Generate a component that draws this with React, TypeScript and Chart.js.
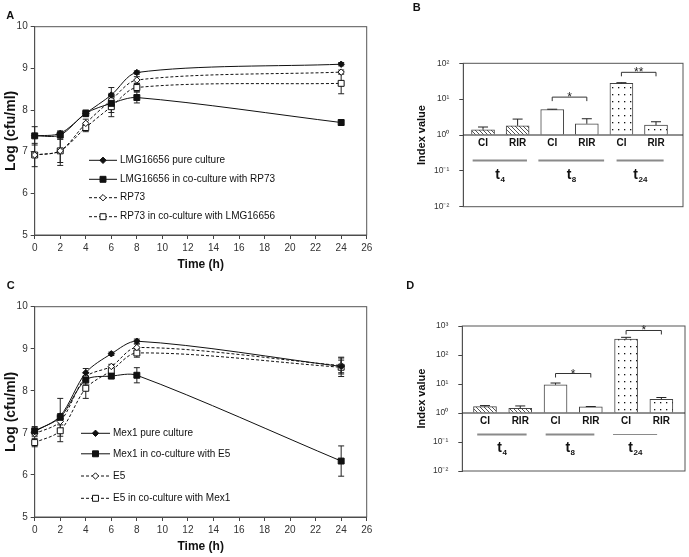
import { useEffect, useRef } from 'react';
import { Chart, registerables } from 'chart.js';

Chart.register(...registerables);
Chart.defaults.font.family = "'Liberation Sans', Arial, Helvetica, sans-serif";
Chart.defaults.color = '#222';

const FONT = "'Liberation Sans', Arial, Helvetica, sans-serif";

// sampling times (h)
const hours = [0, 2, 4, 6, 8, 24];

// panel A: log(cfu/ml)
const lmgPure = [7.38, 7.44, 7.92, 8.36, 8.9, 9.1];
const lmgPureErr = [0.04, 0.04, 0.05, 0.04, 0.04, 0.04];
const lmgCo = [7.38, 7.4, 7.92, 8.16, 8.3, 7.7];
const lmgCoErr = [0.22, 0.1, 0.08, 0.12, 0.13, 0.06];
const rp73 = [6.92, 7.02, 7.68, 8.24, 8.72, 8.91];
const rp73Err = [0.05, 0.28, 0.1, 0.3, 0.08, 0.05];
const rp73Co = [6.92, 7.02, 7.58, 8.08, 8.54, 8.64];
const rp73CoErr = [0.28, 0.35, 0.1, 0.24, 0.1, 0.25];

// panel C: log(cfu/ml)
const mex1Pure = [7.03, 7.4, 8.43, 8.88, 9.18, 8.58];
const mex1PureErr = [0.05, 0.06, 0.1, 0.04, 0.05, 0.15];
const mex1Co = [7.05, 7.37, 8.26, 8.35, 8.37, 6.33];
const mex1CoErr = [0.1, 0.45, 0.1, 0.05, 0.18, 0.36];
const e5 = [6.98, 7.27, 8.33, 8.58, 9.03, 8.6];
const e5Err = [0.06, 0.08, 0.1, 0.05, 0.08, 0.2];
const e5Co = [6.77, 7.05, 8.06, 8.48, 8.9, 8.56];
const e5CoErr = [0.1, 0.26, 0.24, 0.1, 0.1, 0.22];

// panels B and D: index values
const barCats = ['CI', 'RIR', 'CI', 'RIR', 'CI', 'RIR'];
const timeGroups = ['4', '8', '24'];
const indexB = [1.4, 1.81, 5.14, 2.06, 27.8, 1.89];
const indexBErr = [0.27, 0.97, 0.1, 0.78, 1.0, 0.45];
const indexD = [1.66, 1.45, 9.4, 1.62, 356, 2.99];
const indexDErr = [0.14, 0.3, 1.4, 0.05, 51, 0.43];
const logTicksB = [0.01, 0.1, 1, 10, 100];
const logLabelsB = ['10⁻²', '10⁻¹', '10⁰', '10¹', '10²'];
const logTicksD = [0.01, 0.1, 1, 10, 100, 1000];
const logLabelsD = ['10⁻²', '10⁻¹', '10⁰', '10¹', '10²', '10³'];
const sigB = [
  { a: 2, b: 3, y: 11.4, mark: '*' },
  { a: 4, b: 5, y: 56, mark: '**' },
];
const sigD = [
  { a: 2, b: 3, y: 23, mark: '*' },
  { a: 4, b: 5, y: 700, mark: '*' },
];

function drawMarker(ctx: any, style: string, x: number, y: number, r: number, fill: string, stroke: string) {
  ctx.beginPath();
  if (style === 'rectRot') {
    ctx.moveTo(x, y - r);
    ctx.lineTo(x + r, y);
    ctx.lineTo(x, y + r);
    ctx.lineTo(x - r, y);
    ctx.closePath();
  } else {
    const s = Math.SQRT1_2 * r;
    ctx.rect(x - s, y - s, 2 * s, 2 * s);
  }
  ctx.fillStyle = fill;
  ctx.fill();
  ctx.strokeStyle = stroke;
  ctx.lineWidth = 1;
  ctx.stroke();
}

const framePlugin = {
  id: 'frame',
  beforeDatasetsDraw(chart: any) {
    const { ctx, chartArea: a } = chart;
    ctx.save();
    ctx.strokeStyle = '#555';
    ctx.lineWidth = 1;
    ctx.strokeRect(a.left, a.top, a.right - a.left, a.bottom - a.top);
    ctx.restore();
  },
};

function errorBars(upOnly: boolean, cap: number) {
  const draw = (chart: any) => {
    const { ctx, scales } = chart;
    const y = scales.y;
    chart.data.datasets.forEach((ds: any, i: number) => {
      const meta = chart.getDatasetMeta(i);
      meta.data.forEach((el: any, j: number) => {
        const v = ds.data[j].y;
        const e = ds.errors[j];
        const top = y.getPixelForValue(v + e);
        const bot = upOnly ? el.y : y.getPixelForValue(v - e);
        ctx.save();
        ctx.strokeStyle = '#222';
        ctx.lineWidth = 1;
        ctx.setLineDash([]);
        ctx.beginPath();
        ctx.moveTo(el.x, top);
        ctx.lineTo(el.x, bot);
        ctx.moveTo(el.x - cap, top);
        ctx.lineTo(el.x + cap, top);
        if (!upOnly) {
          ctx.moveTo(el.x - cap, bot);
          ctx.lineTo(el.x + cap, bot);
        }
        ctx.stroke();
        ctx.restore();
      });
    });
  };
  return upOnly
    ? { id: 'errorBars', afterDatasetsDraw: draw }
    : { id: 'errorBars', beforeDatasetsDraw: draw };
}

function lineLegend(x0: number, x1: number, ys: number[]) {
  return {
    id: 'lineLegend',
    afterDatasetsDraw(chart: any) {
      const { ctx } = chart;
      chart.data.datasets.forEach((ds: any, i: number) => {
        const y = ys[i];
        ctx.save();
        ctx.strokeStyle = ds.borderColor;
        ctx.lineWidth = 1;
        ctx.setLineDash(ds.borderDash || []);
        ctx.beginPath();
        ctx.moveTo(x0, y);
        ctx.lineTo(x1, y);
        ctx.stroke();
        ctx.setLineDash([]);
        drawMarker(ctx, ds.pointStyle, (x0 + x1) / 2, y, ds.pointRadius, ds.pointBackgroundColor, ds.pointBorderColor);
        ctx.fillStyle = '#111';
        ctx.font = `10px ${FONT}`;
        ctx.textBaseline = 'middle';
        ctx.textAlign = 'left';
        ctx.fillText(ds.label, x1 + 3, y);
        ctx.restore();
      });
    },
  };
}

function barNotes(cfg: any) {
  return {
    id: 'barNotes',
    afterDatasetsDraw(chart: any) {
      const { ctx, chartArea: a, scales } = chart;
      const x = scales.x;
      const y = scales.y;
      const base = y.getPixelForValue(1);
      ctx.save();
      ctx.strokeStyle = '#222';
      ctx.lineWidth = 1;
      ctx.beginPath();
      ctx.moveTo(a.left, base);
      ctx.lineTo(a.right, base);
      ctx.stroke();

      ctx.fillStyle = '#111';
      ctx.textAlign = 'center';
      ctx.textBaseline = 'middle';
      ctx.font = `bold 10px ${FONT}`;
      cfg.cats.forEach((c: string, i: number) => {
        ctx.fillText(c, x.getPixelForValue(i), base + cfg.catDy);
      });

      cfg.spans.forEach((sp: number[], g: number) => {
        const xs = x.getPixelForValue(sp[0]);
        const xe = x.getPixelForValue(sp[1]);
        ctx.strokeStyle = '#8a8a8a';
        ctx.lineWidth = cfg.spanWidths[g];
        ctx.beginPath();
        ctx.moveTo(xs, base + cfg.lineDy);
        ctx.lineTo(xe, base + cfg.lineDy);
        ctx.stroke();
        const sub = cfg.groups[g];
        ctx.font = `bold 14px ${FONT}`;
        const wt = ctx.measureText('t').width;
        ctx.font = `bold 8px ${FONT}`;
        const ws = ctx.measureText(sub).width;
        const start = (xs + xe) / 2 - (wt + ws) / 2;
        const ty = base + cfg.groupDy;
        ctx.textAlign = 'left';
        ctx.textBaseline = 'alphabetic';
        ctx.font = `bold 14px ${FONT}`;
        ctx.fillText('t', start, ty + 4);
        ctx.font = `bold 8px ${FONT}`;
        ctx.fillText(sub, start + wt + 0.5, ty + 7);
      });

      cfg.sig.forEach((s: any) => {
        const xa = x.getPixelForValue(s.a);
        const xb = x.getPixelForValue(s.b);
        const yy = y.getPixelForValue(s.y);
        ctx.strokeStyle = '#333';
        ctx.lineWidth = 1;
        ctx.beginPath();
        ctx.moveTo(xa, yy + 4);
        ctx.lineTo(xa, yy);
        ctx.lineTo(xb, yy);
        ctx.lineTo(xb, yy + 4);
        ctx.stroke();
        ctx.font = `12px ${FONT}`;
        ctx.textAlign = 'center';
        ctx.textBaseline = 'alphabetic';
        ctx.fillStyle = '#222';
        ctx.fillText(s.mark, (xa + xb) / 2, yy + 4);
      });
      ctx.restore();
    },
  };
}

function makeHatch(ctx: CanvasRenderingContext2D) {
  const c = document.createElement('canvas');
  c.width = 4;
  c.height = 4;
  const g = c.getContext('2d')!;
  g.fillStyle = '#fff';
  g.fillRect(0, 0, 4, 4);
  g.strokeStyle = '#555';
  g.lineWidth = 1;
  g.beginPath();
  g.moveTo(-1, -1);
  g.lineTo(5, 5);
  g.moveTo(-1, 3);
  g.lineTo(1, 5);
  g.moveTo(3, -1);
  g.lineTo(5, 1);
  g.stroke();
  return ctx.createPattern(c, 'repeat');
}

function makeDots(ctx: CanvasRenderingContext2D) {
  const c = document.createElement('canvas');
  c.width = 6;
  c.height = 7;
  const g = c.getContext('2d')!;
  g.fillStyle = '#fff';
  g.fillRect(0, 0, 6, 7);
  g.fillStyle = '#111';
  g.fillRect(3, 3, 1.3, 1.3);
  return ctx.createPattern(c, 'repeat');
}

type Series = { label: string; values: number[]; errors: number[]; marker: string; filled: boolean; dashed: boolean };

function lineConfig(series: Series[], p: any) {
  return {
    type: 'line',
    data: {
      datasets: series.map((s) => ({
        label: s.label,
        data: hours.map((h, i) => ({ x: h, y: s.values[i] })),
        errors: s.errors,
        borderColor: '#111',
        borderWidth: 1,
        borderDash: s.dashed ? [3, 2] : [],
        pointStyle: s.marker === 'diamond' ? 'rectRot' : 'rect',
        pointRadius: s.marker === 'diamond' ? 3.2 : 4.2,
        pointHoverRadius: s.marker === 'diamond' ? 3.2 : 4.2,
        pointBackgroundColor: s.filled ? '#111' : '#fff',
        pointBorderColor: '#111',
        pointBorderWidth: 1,
        tension: 0.3,
        fill: false,
        clip: false,
      })),
    },
    options: {
      animation: false,
      responsive: false,
      events: [],
      layout: { padding: { top: p.padTop, right: p.padRight, left: 0, bottom: 0 } },
      plugins: { legend: { display: false }, tooltip: { enabled: false } },
      scales: {
        x: {
          type: 'linear',
          min: 0,
          max: 26,
          ticks: { stepSize: 2, font: { size: 10 }, color: '#333', padding: 3 },
          grid: { drawOnChartArea: false, tickLength: 4, color: '#444' },
          border: { color: '#444' },
          title: {
            display: true,
            text: 'Time (h)',
            color: '#111',
            font: { size: 12, weight: 'bold' },
            padding: { top: 0, bottom: p.xTitlePad },
          },
          afterFit: (s: any) => {
            s.height = p.xAxisH;
          },
        },
        y: {
          type: 'linear',
          min: 5,
          max: 10,
          ticks: { stepSize: 1, font: { size: 10 }, color: '#333', padding: 3 },
          grid: { drawOnChartArea: false, tickLength: 4, color: '#444' },
          border: { color: '#444' },
          title: {
            display: true,
            text: 'Log (cfu/ml)',
            color: '#111',
            font: { size: 14, weight: 'bold' },
            padding: { top: 3, bottom: 0 },
          },
          afterFit: (s: any) => {
            s.width = p.yAxisW;
          },
        },
      },
    },
    plugins: [framePlugin, errorBars(false, 3), lineLegend(p.legX0, p.legX1, p.legYs)],
  };
}

function barConfig(ctx: CanvasRenderingContext2D, values: number[], errors: number[], p: any) {
  const hatch = makeHatch(ctx);
  const dots = makeDots(ctx);
  const fills = [hatch, hatch, '#fff', '#fff', dots, dots];
  return {
    type: 'bar',
    data: {
      datasets: [
        {
          data: values.map((v, i) => ({ x: i, y: v })),
          errors,
          backgroundColor: fills,
          borderColor: '#444',
          borderWidth: 1,
          borderSkipped: 'start',
          barThickness: 23,
          base: 1,
        },
      ],
    },
    options: {
      animation: false,
      responsive: false,
      events: [],
      layout: { padding: { top: p.padTop, right: p.padRight, bottom: p.padBottom, left: 0 } },
      plugins: { legend: { display: false }, tooltip: { enabled: false } },
      scales: {
        x: { type: 'linear', display: false, offset: false, min: p.xMin, max: p.xMax },
        y: {
          type: 'logarithmic',
          min: p.ticks[0],
          max: p.ticks[p.ticks.length - 1],
          afterBuildTicks: (s: any) => {
            s.ticks = p.ticks.map((v: number) => ({ value: v }));
          },
          ticks: {
            autoSkip: false,
            font: { size: 8.5 },
            color: '#333',
            padding: 10,
            callback: (_v: any, i: number) => p.labels[i],
          },
          grid: { drawOnChartArea: false, tickLength: 4, color: '#444' },
          border: { color: '#444' },
          title: {
            display: true,
            text: 'Index value',
            color: '#111',
            font: { size: 11, weight: 'bold' },
            padding: { top: 10, bottom: 0 },
          },
          afterFit: (s: any) => {
            s.width = p.yAxisW;
          },
        },
      },
    },
    plugins: [
      framePlugin,
      errorBars(true, 5),
      barNotes({
        cats: barCats,
        groups: timeGroups,
        spans: p.spans,
        spanWidths: p.spanWidths,
        sig: p.sig,
        catDy: 8,
        lineDy: p.lineDy,
        groupDy: p.groupDy,
      }),
    ],
  };
}

function ChartCanvas({ left, top, width, height, build }: any) {
  const ref = useRef<HTMLCanvasElement>(null);
  useEffect(() => {
    const canvas = ref.current;
    if (!canvas) return;
    const ctx = canvas.getContext('2d');
    if (!ctx) return;
    const chart = new Chart(canvas, build(ctx));
    return () => chart.destroy();
  }, []);
  return (
    <canvas
      ref={ref}
      width={width}
      height={height}
      style={{ position: 'absolute', left, top, width, height }}
    />
  );
}

function Letter({ text, cx, cy }: any) {
  return (
    <div
      style={{
        position: 'absolute',
        left: cx - 4,
        top: cy - 5.5,
        font: `bold 11px ${FONT}`,
        lineHeight: '11px',
        color: '#111',
      }}
    >
      {text}
    </div>
  );
}

const seriesA: Series[] = [
  { label: 'LMG16656 pure culture', values: lmgPure, errors: lmgPureErr, marker: 'diamond', filled: true, dashed: false },
  { label: 'LMG16656 in co-culture with RP73', values: lmgCo, errors: lmgCoErr, marker: 'square', filled: true, dashed: false },
  { label: 'RP73', values: rp73, errors: rp73Err, marker: 'diamond', filled: false, dashed: true },
  { label: 'RP73 in co-culture with LMG16656', values: rp73Co, errors: rp73CoErr, marker: 'square', filled: false, dashed: true },
];

const seriesC: Series[] = [
  { label: 'Mex1 pure culture', values: mex1Pure, errors: mex1PureErr, marker: 'diamond', filled: true, dashed: false },
  { label: 'Mex1 in co-culture with E5', values: mex1Co, errors: mex1CoErr, marker: 'square', filled: true, dashed: false },
  { label: 'E5', values: e5, errors: e5Err, marker: 'diamond', filled: false, dashed: true },
  { label: 'E5 in co-culture with Mex1', values: e5Co, errors: e5CoErr, marker: 'square', filled: false, dashed: true },
];

export default function App() {
  return (
    <div style={{ position: 'relative', width: 689, height: 557, background: '#fff', overflow: 'hidden' }}>
      <style>{'body{margin:0;background:#fff}'}</style>
      <ChartCanvas
        left={0}
        top={0}
        width={380}
        height={280}
        build={() =>
          lineConfig(seriesA, {
            padTop: 26.7,
            padRight: 13.3,
            xAxisH: 45,
            yAxisW: 34.7,
            xTitlePad: 7.8,
            legX0: 89,
            legX1: 117,
            legYs: [160.3, 179.3, 197.7, 216.7],
          })
        }
      />
      <ChartCanvas
        left={0}
        top={280}
        width={380}
        height={277}
        build={() =>
          lineConfig(seriesC, {
            padTop: 26.7,
            padRight: 13.3,
            xAxisH: 40,
            yAxisW: 34.7,
            xTitlePad: 3.1,
            legX0: 81,
            legX1: 110,
            legYs: [153.3, 173.8, 196, 218.3],
          })
        }
      />
      <ChartCanvas
        left={405}
        top={0}
        width={284}
        height={280}
        build={(ctx: CanvasRenderingContext2D) =>
          barConfig(ctx, indexB, indexBErr, {
            padTop: 63.3,
            padRight: 6,
            padBottom: 73.3,
            yAxisW: 58.3,
            xMin: -0.57,
            xMax: 5.78,
            ticks: logTicksB,
            labels: logLabelsB,
            spans: [[-0.3, 1.27], [1.6, 3.5], [3.86, 5.22]],
            spanWidths: [2, 2, 2],
            sig: sigB,
            lineDy: 25.4,
            groupDy: 39.7,
          })
        }
      />
      <ChartCanvas
        left={405}
        top={280}
        width={284}
        height={277}
        build={(ctx: CanvasRenderingContext2D) =>
          barConfig(ctx, indexD, indexDErr, {
            padTop: 46,
            padRight: 4,
            padBottom: 86,
            yAxisW: 57.3,
            xMin: -0.643,
            xMax: 5.67,
            ticks: logTicksD,
            labels: logLabelsD,
            spans: [[-0.22, 1.18], [1.72, 3.1], [3.63, 4.88]],
            spanWidths: [2, 2, 1],
            sig: sigD,
            lineDy: 21.5,
            groupDy: 35.3,
          })
        }
      />
      <Letter text="A" cx={10.3} cy={15} />
      <Letter text="B" cx={416.7} cy={7.8} />
      <Letter text="C" cx={10.7} cy={285} />
      <Letter text="D" cx={410.3} cy={285.3} />
    </div>
  );
}
